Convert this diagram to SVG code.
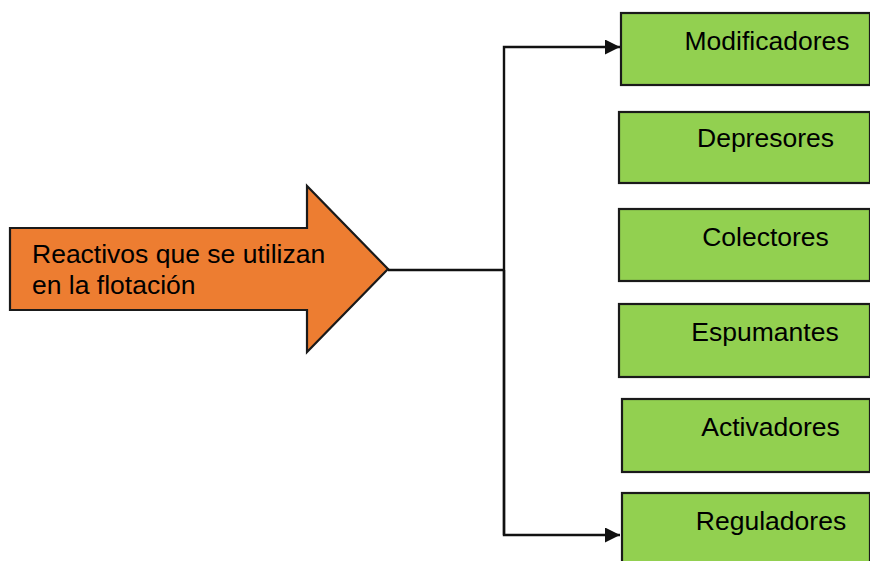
<svg xmlns="http://www.w3.org/2000/svg" width="870" height="561" viewBox="0 0 870 561">
  <style>
    .box { fill: #92D050; stroke: #1a1a1a; stroke-width: 2.2; }
    .big { fill: #ED7D31; stroke: #1a1a1a; stroke-width: 2.2; stroke-linejoin: miter; }
    .lbl { font-family: "Liberation Sans", Arial, sans-serif; font-size: 26.5px; fill: #000; }
    .c { text-anchor: middle; }
    .wire { fill: none; stroke: #111; stroke-width: 2.4; }
  </style>
  <defs>
    <marker id="tri" viewBox="0 0 10 10" refX="10" refY="5" markerWidth="16" markerHeight="15" markerUnits="userSpaceOnUse" orient="auto">
      <path d="M0,0 L10,5 L0,10 z" fill="#111"/>
    </marker>
  </defs>
  <rect width="870" height="561" fill="#fff"/>

  <!-- source block arrow -->
  <g id="reactivos">
    <polygon class="big" points="10,228 307,228 307,186 388,269 307,352 307,310 10,310"/>
    <text class="lbl" x="32" y="263">Reactivos que se utilizan</text>
    <text class="lbl" x="32" y="294">en la flotación</text>
  </g>

  <!-- connectors -->
  <g id="connectors">
    <path class="wire" d="M388,270 H504"/>
    <path class="wire" d="M504,535 V47 H620" marker-end="url(#tri)"/>
    <path class="wire" d="M504,270 V535 H620" marker-end="url(#tri)"/>
  </g>

  <g id="modificadores">
    <rect class="box" x="621" y="13" width="249" height="72"/>
    <text class="lbl c" x="767" y="50">Modificadores</text>
  </g>
  <g id="depresores">
    <rect class="box" x="619" y="112" width="251" height="71"/>
    <text class="lbl c" x="765.5" y="147">Depresores</text>
  </g>
  <g id="colectores">
    <rect class="box" x="619" y="209" width="251" height="72"/>
    <text class="lbl c" x="765.5" y="246">Colectores</text>
  </g>
  <g id="espumantes">
    <rect class="box" x="619" y="304" width="251" height="73"/>
    <text class="lbl c" x="765" y="341">Espumantes</text>
  </g>
  <g id="activadores">
    <rect class="box" x="622" y="399" width="248" height="73"/>
    <text class="lbl c" x="770.5" y="436">Activadores</text>
  </g>
  <g id="reguladores">
    <rect class="box" x="622" y="493" width="248" height="80"/>
    <text class="lbl c" x="771" y="530">Reguladores</text>
  </g>
</svg>
